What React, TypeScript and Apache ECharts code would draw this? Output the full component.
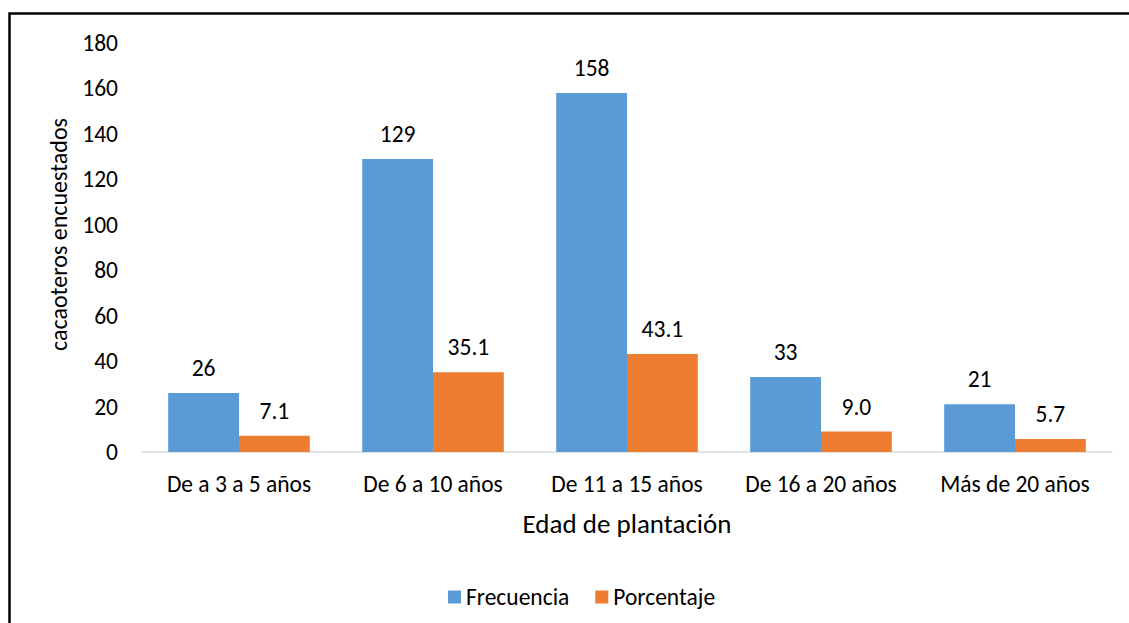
import React, { useEffect, useRef } from "react";
import * as echarts from "echarts";

const categories = ["De a 3 a 5 años", "De 6 a 10 años", "De 11 a 15 años", "De 16 a 20 años", "Más de 20 años"];
const frecuencia = [26, 129, 158, 33, 21];
const porcentaje = [7.1, 35.1, 43.1, 9.0, 5.7];
const seriesNames = ["Frecuencia", "Porcentaje"];
const yAxisName = "cacaoteros encuestados";
const xAxisName = "Edad de plantación";

const FONT = "Carlito, Lato, 'Open Sans', sans-serif";
const FS = 23.5;

export default function App() {
  const ref = useRef<HTMLDivElement>(null);
  useEffect(() => {
    if (!ref.current) return;
    const chart = echarts.init(ref.current, null, { renderer: "svg" });
    chart.setOption({
      animation: false,
      backgroundColor: "#ffffff",
      textStyle: { fontFamily: FONT, color: "#000" },
      graphic: [
        {
          type: "rect",
          shape: { x: 9.5, y: 13.5, width: 1200, height: 700 },
          style: { fill: "none", stroke: "#000", lineWidth: 2.5 },
          silent: true,
        },
      ],
      grid: { left: 142, right: 17, top: 43, bottom: 171, containLabel: false },
      legend: {
        data: seriesNames,
        left: 443,
        top: 580,
        itemWidth: 13,
        itemHeight: 13,
        itemGap: 26,
        icon: "rect",
        textStyle: { fontFamily: FONT, fontSize: FS, color: "#000" },
      },
      xAxis: {
        type: "category",
        data: categories,
        axisLine: { lineStyle: { color: "#D9D9D9", width: 1.5 } },
        axisTick: { show: false },
        axisLabel: { interval: 0, hideOverlap: false, fontFamily: FONT, fontSize: FS, color: "#000", margin: 20 },
        name: xAxisName,
        nameLocation: "middle",
        nameGap: 58,
        nameTextStyle: { fontFamily: FONT, fontSize: 27, color: "#000" },
      },
      yAxis: {
        type: "value",
        min: 0,
        max: 180,
        interval: 20,
        splitLine: { show: false },
        axisLine: { show: false },
        axisTick: { show: false },
        axisLabel: { fontFamily: FONT, fontSize: FS, color: "#000", margin: 24 },
        name: yAxisName,
        nameLocation: "middle",
        nameGap: 72,
        nameRotate: 90,
        nameTextStyle: { fontFamily: FONT, fontSize: 24, color: "#000", padding: [0, 0, 0, 26] },
      },
      series: [
        {
          name: seriesNames[0],
          type: "bar",
          data: frecuencia,
          barGap: "0%",
          barCategoryGap: "27%",
          itemStyle: { color: "#5B9BD5" },
          label: { show: true, position: "top", distance: 13, fontFamily: FONT, fontSize: FS, color: "#000" },
        },
        {
          name: seriesNames[1],
          type: "bar",
          data: porcentaje,
          barGap: "0%",
          barCategoryGap: "27%",
          itemStyle: { color: "#ED7D31" },
          label: {
            show: true,
            position: "top",
            distance: 13,
            fontFamily: FONT,
            fontSize: FS,
            color: "#000",
            formatter: (p: any) => Number(p.value).toFixed(1),
          },
        },
      ],
    });
    return () => chart.dispose();
  }, []);
  return <div ref={ref} style={{ position: "fixed", left: 0, top: 0, width: 1129, height: 623 }} />;
}
